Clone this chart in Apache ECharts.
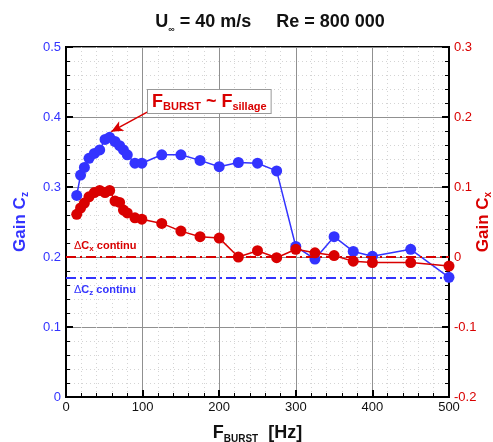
<!DOCTYPE html>
<html><head><meta charset="utf-8">
<script src="https://cdn.jsdelivr.net/npm/echarts@6/dist/echarts.min.js"></script>
<style>html,body{margin:0;padding:0;background:#fff}#c{width:493px;height:442px}</style>
</head><body><div id="c"></div>
<script>
var freq = [14, 19, 24, 30, 37, 44, 51, 57, 64, 70, 75, 80, 90, 99, 125, 150, 175, 200, 225, 250, 275, 300, 325, 350, 375, 400, 450, 500];
var gainCz = [0.288, 0.317, 0.328, 0.341, 0.348, 0.353, 0.368, 0.371, 0.365, 0.359, 0.353, 0.346, 0.334, 0.334, 0.346, 0.346, 0.338, 0.329, 0.335, 0.334, 0.323, 0.215, 0.197, 0.229, 0.208, 0.201, 0.211, 0.171];
var gainCx = [0.061, 0.070, 0.077, 0.086, 0.092, 0.095, 0.092, 0.095, 0.080, 0.078, 0.067, 0.063, 0.056, 0.054, 0.048, 0.037, 0.029, 0.027, 0.000, 0.009, -0.001, 0.011, 0.006, 0.002, -0.006, -0.008, -0.008, -0.013];
var czContinu = 0.171;
var cxContinu = 0.0;
var xTicks = [0, 100, 200, 300, 400, 500];
var annotArrow = [[106, 0.407], [59, 0.379]];

var BLUE = '#3333ff', RED = '#d90000';
var FONT = '"Liberation Sans", Arial, sans-serif';

var chart = echarts.init(document.getElementById('c'), null, {renderer: 'canvas'});
function pair(a, b) { return a.map(function (v, i) { return [v, b[i]]; }); }

var minorSplit = {show: true, lineStyle: {color: '#d4d4d4', type: [1, 3], width: 1}};
var option = {
  animation: false,
  textStyle: {fontFamily: FONT},
  title: {
    text: '{b|U}{s|∞}{b| = 40 m/s     Re = 800 000}',
    left: 265, top: 6, textAlign: 'center',
    textStyle: {rich: {
      b: {fontSize: 18, fontWeight: 'bold', color: '#111', fontFamily: FONT},
      s: {fontSize: 9, color: '#111', verticalAlign: 'bottom', padding: [14, 0, 0, 0], fontFamily: FONT}
    }}
  },
  grid: {left: 66, right: 44, top: 47, bottom: 45, show: true, borderColor: '#000', borderWidth: 2,
    backgroundColor: 'transparent', containLabel: false, outerBoundsMode: 'none'},
  xAxis: {
    type: 'value', min: 0, max: 500, interval: 100,
    axisLine: {show: true, lineStyle: {color: '#000', width: 2}},
    axisTick: {inside: true, length: 7, lineStyle: {color: '#000', width: 2}},
    minorTick: {show: true, splitNumber: 5, length: 4, lineStyle: {color: '#000', width: 1}},
    splitLine: {show: true, lineStyle: {color: '#909090', width: 1}},
    minorSplitLine: minorSplit,
    axisLabel: {color: '#111', fontSize: 13, margin: 4, fontFamily: FONT,
      formatter: function (v) { return xTicks.indexOf(v) >= 0 ? String(v) : ''; }},
    name: '{b|F}{s|BURST}{b|  [Hz]}', nameLocation: 'middle', nameGap: 26, nameMoveOverlap: false,
    nameTextStyle: {rich: {
      b: {fontSize: 18, fontWeight: 'bold', color: '#111', fontFamily: FONT},
      s: {fontSize: 10, fontWeight: 'bold', color: '#111', verticalAlign: 'bottom', padding: [11, 0, 0, 0], fontFamily: FONT}
    }}
  },
  yAxis: [{
    type: 'value', min: 0, max: 0.5, interval: 0.1, position: 'left',
    axisLine: {show: true, lineStyle: {color: '#000', width: 2}},
    axisTick: {inside: true, length: 7, lineStyle: {color: '#000', width: 2}},
    minorTick: {show: true, splitNumber: 5, length: 4, lineStyle: {color: '#000', width: 1}},
    splitLine: {show: true, lineStyle: {color: '#909090', width: 1}},
    minorSplitLine: minorSplit,
    axisLabel: {color: BLUE, fontSize: 13, margin: 5, fontFamily: FONT,
      formatter: function (v) { return +v.toFixed(1) + ''; }},
    name: '{b|Gain C}{s|z}', nameLocation: 'middle', nameGap: 36, nameRotate: 90, nameMoveOverlap: false,
    nameTextStyle: {rich: {
      b: {fontSize: 17, fontWeight: 'bold', color: BLUE, fontFamily: FONT},
      s: {fontSize: 10, fontWeight: 'bold', color: BLUE, verticalAlign: 'bottom', padding: [10, 0, 0, 0], fontFamily: FONT}
    }}
  }, {
    type: 'value', min: -0.2, max: 0.3, interval: 0.1, position: 'right',
    axisLine: {show: true, lineStyle: {color: '#000', width: 2}},
    axisTick: {inside: true, length: 7, lineStyle: {color: '#000', width: 2}},
    minorTick: {show: true, splitNumber: 5, length: 4, lineStyle: {color: '#000', width: 1}},
    splitLine: {show: false},
    axisLabel: {color: RED, fontSize: 13, margin: 5, fontFamily: FONT,
      formatter: function (v) { return +v.toFixed(1) + ''; }},
    name: '{b|Gain C}{s|x}', nameLocation: 'middle', nameGap: 24, nameRotate: 90, nameMoveOverlap: false,
    nameTextStyle: {rich: {
      b: {fontSize: 17, fontWeight: 'bold', color: RED, fontFamily: FONT},
      s: {fontSize: 10, fontWeight: 'bold', color: RED, verticalAlign: 'bottom', padding: [10, 0, 0, 0], fontFamily: FONT}
    }}
  }],
  series: [{
    type: 'line', yAxisIndex: 0, data: pair(freq, gainCz), z: 3,
    symbol: 'circle', symbolSize: 11,
    itemStyle: {color: BLUE}, lineStyle: {color: BLUE, width: 1.5},
    markLine: {
      silent: true, symbol: 'none', animation: false,
      data: [
        {yAxis: czContinu, lineStyle: {color: BLUE, width: 2, type: [10, 4, 2, 4]},
         label: {show: true, position: 'insideStartBottom', distance: [8, 5], formatter: '{d|Δ}{b|C}{s|z}{b| continu}',
           rich: {d: {color: BLUE, fontSize: 11, fontFamily: FONT}, b: {color: BLUE, fontSize: 11, fontWeight: 'bold', fontFamily: FONT},
             s: {color: BLUE, fontSize: 8, fontWeight: 'bold', verticalAlign: 'bottom', padding: [6, 0, 0, 0], fontFamily: FONT}}}},
        [{coord: annotArrow[0], symbol: 'none', lineStyle: {color: RED, width: 1.5, type: 'solid'}, label: {show: false}},
         {coord: annotArrow[1], symbol: 'arrow', symbolSize: [8, 12]}]
      ]
    }
  }, {
    type: 'line', yAxisIndex: 1, data: pair(freq, gainCx), z: 4,
    symbol: 'circle', symbolSize: 11,
    itemStyle: {color: RED}, lineStyle: {color: RED, width: 1.5},
    markLine: {
      silent: true, symbol: 'none', animation: false,
      data: [
        {yAxis: cxContinu, lineStyle: {color: RED, width: 2, type: [10, 4, 2, 4]},
         label: {show: true, position: 'insideStartTop', distance: [8, 4], formatter: '{d|Δ}{b|C}{s|x}{b| continu}',
           rich: {d: {color: RED, fontSize: 11, fontFamily: FONT}, b: {color: RED, fontSize: 11, fontWeight: 'bold', fontFamily: FONT},
             s: {color: RED, fontSize: 8, fontWeight: 'bold', verticalAlign: 'bottom', padding: [6, 0, 0, 0], fontFamily: FONT}}}}
      ]
    }
  }],
  graphic: [{
    type: 'text', left: 147, top: 89, z: 100,
    style: {
      text: '{b|F}{s|BURST}{b| ~ F}{s|sillage}',
      backgroundColor: '#fff', borderColor: '#999', borderWidth: 1, padding: [2, 4, 1, 4],
      rich: {
        b: {fontSize: 18, fontWeight: 'bold', fill: RED, fontFamily: FONT},
        s: {fontSize: 11, fontWeight: 'bold', fill: RED, verticalAlign: 'bottom', padding: [9, 0, 0, 0], fontFamily: FONT}
      }
    }
  }]
};
chart.setOption(option);
</script></body></html>
